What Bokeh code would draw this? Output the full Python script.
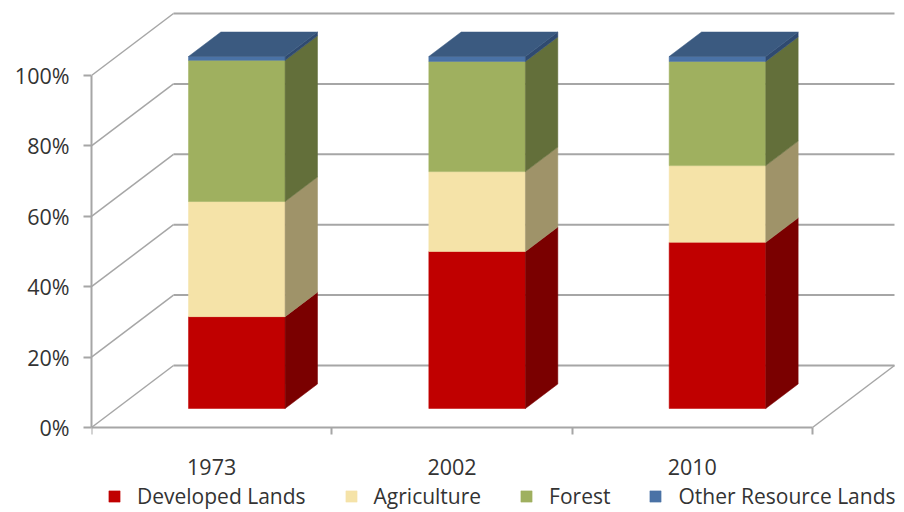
from bokeh.plotting import figure
from bokeh.models import Range1d, FixedTicker, Legend, LegendItem
from bokeh.embed import file_html
from bokeh.resources import INLINE

years = ["1973", "2002", "2010"]
series = ["Developed Lands", "Agriculture", "Forest", "Other Resource Lands"]
developed = [26.1, 44.6, 47.2]
agriculture = [32.7, 22.7, 21.8]
forest = [40.1, 31.3, 29.6]
other = [1.1, 1.4, 1.4]
y_ticks = [0, 20, 40, 60, 80, 100]
y_labels = ["0%", "20%", "40%", "60%", "80%", "100%"]

front_colors = ["#C00000", "#F5E3A8", "#9FB05F", "#4A72A6"]
side_colors = ["#7A0000", "#9F9369", "#636F3A", "#2F4A70"]
top_color = "#3B5A80"
grid = "#A6A6A6"

PX_X = 240.33   # pixels per category
PX_Y = 3.52     # pixels per percent
WALL_DX, WALL_DY = 82 / PX_X, 62 / PX_Y      # full chart depth
BAR_F = 19 / 62                               # front of bar as share of depth
BAR_T = 24.5 / 62                             # bar thickness as share of depth
HALF = 48.3 / PX_X

W, H = 900, 512
LEFT, ZERO_PX = 91, 427
p = figure(width=W, height=H, output_backend="svg", toolbar_location=None,
           x_range=Range1d(0, (W - LEFT) / PX_X),
           y_range=Range1d((ZERO_PX - H) / PX_Y, ZERO_PX / PX_Y),
           min_border_left=LEFT, min_border_right=0, min_border_top=0, min_border_bottom=0,
           background_fill_color=None, border_fill_color=None, outline_line_color=None)
p.grid.visible = False

# axes
for ax in (p.xaxis[0], p.yaxis[0]):
    ax.axis_line_color = grid
    ax.axis_line_width = 2
    ax.major_label_text_font = "Open Sans"
    ax.major_label_text_color = "#333333"
    ax.major_label_text_font_size = "21.5px"
    ax.minor_tick_line_color = grid

ya = p.yaxis[0]
ya.bounds = (0, 100)
ya.ticker = FixedTicker(ticks=y_ticks)
ya.major_label_overrides = dict(zip(y_ticks, y_labels))
ya.major_tick_line_color = grid
ya.major_tick_line_width = 2
ya.major_tick_out = 8
ya.major_tick_in = 0
ya.major_label_standoff = 14

xa = p.xaxis[0]
xa.fixed_location = 0
xa.bounds = (0, len(years))
x_centers = [i + 0.5 for i in range(len(years))]
xa.ticker = FixedTicker(ticks=x_centers, minor_ticks=list(range(len(years) + 1)))
xa.major_label_overrides = dict(zip(x_centers, years))
xa.major_tick_line_color = None
xa.major_tick_out = 0
xa.major_tick_in = 0
xa.minor_tick_out = 7
xa.minor_tick_in = 0
xa.minor_tick_line_width = 2
xa.major_label_standoff = 24

# walls and floor
n = len(years)
p.segment(x0=[WALL_DX] * len(y_ticks), y0=[v + WALL_DY for v in y_ticks],
          x1=[n + WALL_DX] * len(y_ticks), y1=[v + WALL_DY for v in y_ticks],
          line_color=grid, line_width=2)
p.segment(x0=[0] * len(y_ticks), y0=y_ticks,
          x1=[WALL_DX] * len(y_ticks), y1=[v + WALL_DY for v in y_ticks],
          line_color=grid, line_width=1.5)
p.segment(x0=[n], y0=[0], x1=[n + WALL_DX], y1=[WALL_DY], line_color=grid, line_width=1.5)

# stacked 3-D columns
table = [developed, agriculture, forest, other]
ox, oy = BAR_F * WALL_DX, BAR_F * WALL_DY
tx, ty = BAR_T * WALL_DX, BAR_T * WALL_DY
legend_items = []
base = [0.0] * n
for s, vals in enumerate(table):
    tops = [b + v for b, v in zip(base, vals)]
    lefts = [c + ox - HALF for c in x_centers]
    rights = [c + ox + HALF for c in x_centers]
    r = p.quad(left=lefts, right=rights, bottom=[b + oy for b in base], top=[t + oy for t in tops],
               fill_color=front_colors[s], line_color=front_colors[s], line_width=0.5)
    legend_items.append(LegendItem(label=series[s], renderers=[r]))
    p.patches(xs=[[x, x + tx, x + tx, x] for x in rights],
              ys=[[b + oy, b + oy + ty, t + oy + ty, t + oy] for b, t in zip(base, tops)],
              fill_color=side_colors[s], line_color=side_colors[s], line_width=0.5)
    if s == len(table) - 1:
        p.patches(xs=[[l, l + tx, x + tx, x] for l, x in zip(lefts, rights)],
                  ys=[[t + oy, t + oy + ty, t + oy + ty, t + oy] for t in tops],
                  fill_color=top_color, line_color=top_color, line_width=0.5)
    base = tops

legend = Legend(items=legend_items, orientation="horizontal", location=(16, 2),
                padding=0, margin=0, spacing=38, label_standoff=16,
                glyph_width=14, glyph_height=14, label_height=14,
                label_text_font="Open Sans", label_text_font_size="21px",
                label_text_color="#333333", border_line_color=None,
                background_fill_color=None, background_fill_alpha=0)
p.add_layout(legend, "center")

open("out.html", "w").write(file_html(p, INLINE))
